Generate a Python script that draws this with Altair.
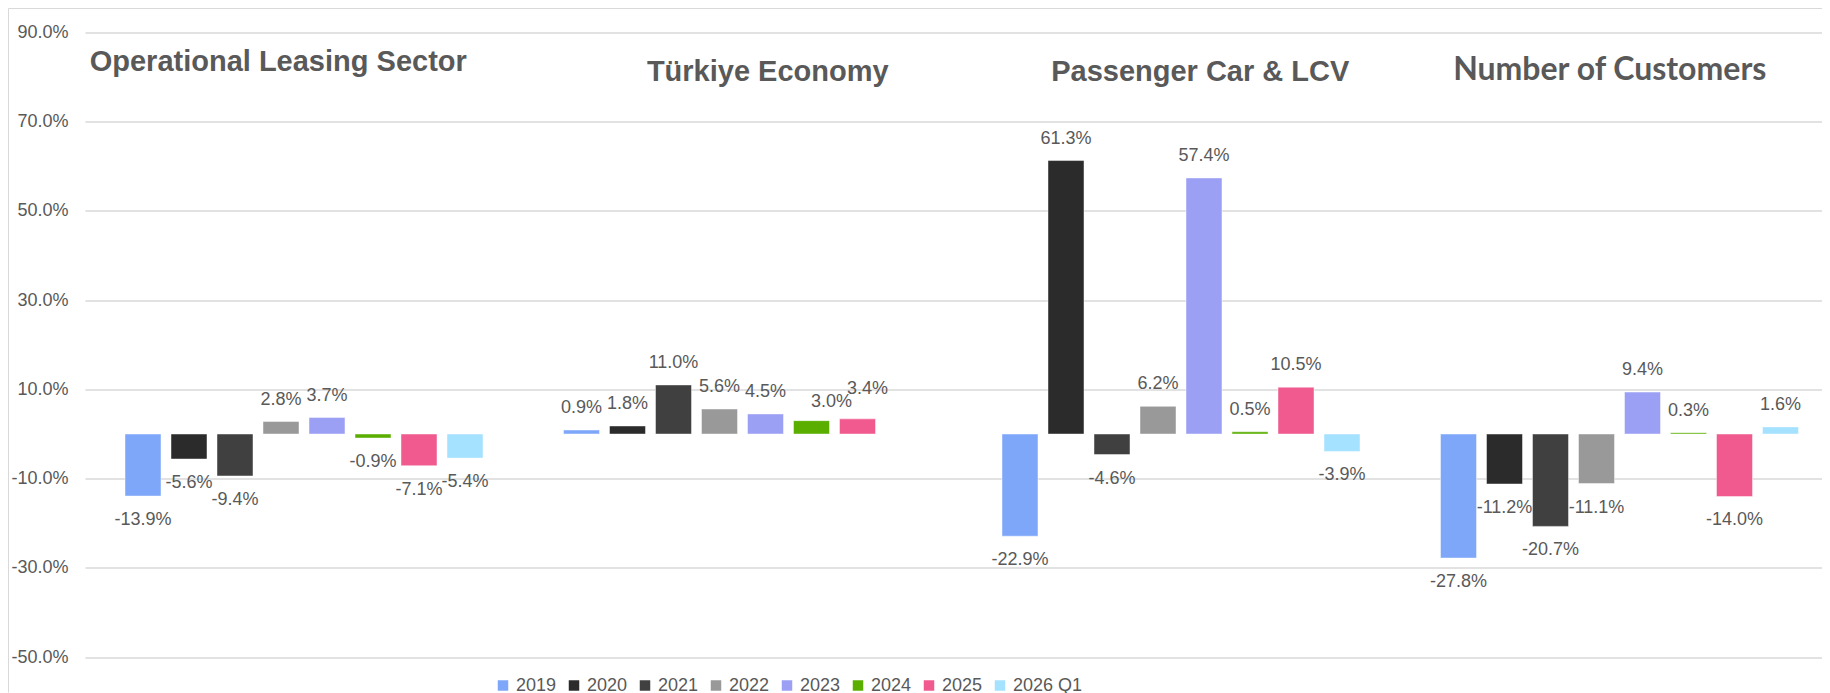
import altair as alt
import pandas as pd

groups = ["Operational Leasing Sector", "Türkiye Economy", "Passenger Car & LCV", "Number of Customers"]
series = ["2019", "2020", "2021", "2022", "2023", "2024", "2025", "2026 Q1"]
colors = ["#7FA7F9", "#2B2B2B", "#404040", "#999999", "#9CA0F5", "#5AAE00", "#F05A8F", "#A5E2FF"]

operational_leasing = [-13.9, -5.6, -9.4, 2.8, 3.7, -0.9, -7.1, -5.4]
turkiye_economy = [0.9, 1.8, 11.0, 5.6, 4.5, 3.0, 3.4, None]
passenger_car_lcv = [-22.9, 61.3, -4.6, 6.2, 57.4, 0.5, 10.5, -3.9]
number_of_customers = [-27.8, -11.2, -20.7, -11.1, 9.4, 0.3, -14.0, 1.6]

y_ticks = [-50, -30, -10, 10, 30, 50, 70, 90]

rows = []
for g, vals in zip(groups, [operational_leasing, turkiye_economy, passenger_car_lcv, number_of_customers]):
    for s, v in zip(series, vals):
        if v is None:
            continue
        rows.append({"group": g, "series": s, "value": v, "label": f"{v:.1f}%"})
df = pd.DataFrame(rows)
titles_df = pd.DataFrame({"group": groups})

TEXT = "#595959"
FONT = "Liberation Sans"

x_enc = alt.X("group:N", sort=groups,
              scale=alt.Scale(domain=groups, range=[0, 1754], paddingInner=0, paddingOuter=0),
              axis=None)
xoff_enc = alt.XOffset("series:N",
                       scale=alt.Scale(domain=series, range=[40, 398], paddingInner=0.2174, paddingOuter=0))
y_enc = alt.Y("value:Q",
              scale=alt.Scale(domain=[-50, 90], nice=False),
              axis=alt.Axis(values=y_ticks, title=None, grid=True, ticks=False, domain=False,
                            gridColor="#e2e2e2", gridWidth=2,
                            labelFont=FONT, labelFontSize=18, labelColor=TEXT, labelPadding=17,
                            labelExpr="replace(format(datum.value, '.1f'), '\u2212', '-') + '%'"))

base = alt.Chart(df)

bars = base.mark_bar(stroke="white", strokeOpacity=0.45, strokeWidth=1).encode(
    x=x_enc, xOffset=xoff_enc, y=y_enc,
    color=alt.Color("series:N", sort=series,
                    scale=alt.Scale(domain=series, range=colors),
                    legend=alt.Legend(orient="none", direction="horizontal", title=None,
                                      legendX=409, legendY=644, padding=0,
                                      symbolType="square", symbolSize=110, symbolStrokeWidth=0,
                                      labelFont=FONT, labelFontSize=18, labelColor=TEXT,
                                      labelOffset=4, columnPadding=8)),
)

special = "(datum.group == 'Türkiye Economy' && (datum.series == '2024' || datum.series == '2025'))"

def lbl(filter_expr, **kw):
    return base.transform_filter(filter_expr).mark_text(
        font=FONT, fontSize=18, color=TEXT, baseline="middle", align="center", **kw
    ).encode(x=x_enc, xOffset=xoff_enc, y=y_enc, text="label:N")

pos_labels = lbl(f"datum.value >= 0 && !{special}", dy=-22)
neg_labels = lbl("datum.value < 0", dy=24)
lab_2024 = lbl("datum.group == 'Türkiye Economy' && datum.series == '2024'", dx=20, dy=-19)
lab_2025 = lbl("datum.group == 'Türkiye Economy' && datum.series == '2025'", dx=10, dy=-30)

title_specs = [
    (groups[0], FONT, 29, -26, 38.2),
    (groups[1], FONT, 29, 25, 48.5),
    (groups[2], FONT, 29, 19, 48.5),
    (groups[3], "Lato", 32, -10, 47.5),
]
title_layers = []
for g, f, fs, dx, yb in title_specs:
    title_layers.append(
        alt.Chart(titles_df).transform_filter(alt.datum.group == g).mark_text(
            font=f, fontSize=fs, fontWeight="bold", color=TEXT, align="center",
            baseline="alphabetic", dx=dx
        ).encode(x=x_enc, y=alt.value(yb), text="group:N")
    )

one = pd.DataFrame({"k": [0]})
top_border = alt.Chart(one).mark_rule(color="#d9d9d9", strokeWidth=1).encode(
    x=alt.value(-76.5), x2=alt.value(1737), y=alt.value(-24))
left_border = alt.Chart(one).mark_rule(color="#d9d9d9", strokeWidth=1).encode(
    x=alt.value(-76.5), y=alt.value(-24), y2=alt.value(660))

chart = alt.layer(
    top_border, left_border, bars, pos_labels, neg_labels, lab_2024, lab_2025, *title_layers
).properties(
    width=1737, height=624.6,
    autosize=alt.AutoSizeParams(type="none"),
    padding={"left": 77, "top": 24.5, "right": 0, "bottom": 35.9},
).configure_view(stroke=None)

chart.save("out.html", embed_options={"renderer": "svg", "actions": False})
